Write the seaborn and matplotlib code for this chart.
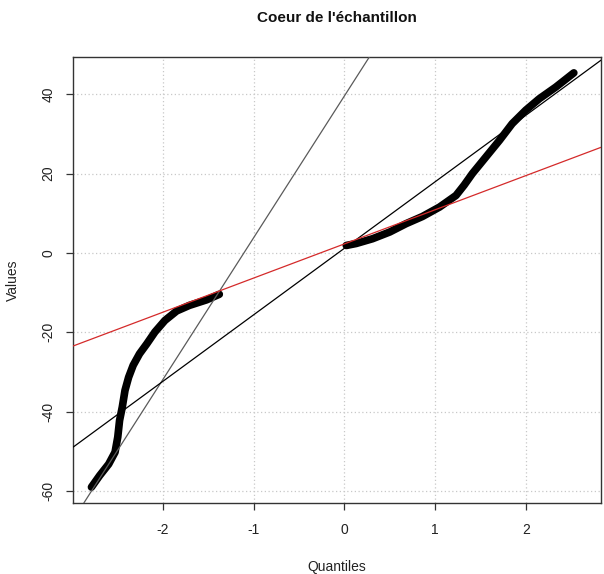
import numpy as np
import pandas as pd
import seaborn as sns
import matplotlib
matplotlib.use("Agg")
import matplotlib.pyplot as plt

# ============================================================
# DONNEES
# ============================================================

# partie basse de l'echantillon
q_bas = [-2.79, -2.70, -2.60, -2.53, -2.50, -2.48, -2.45, -2.42, -2.38,
         -2.33, -2.26, -2.18, -2.09, -1.98, -1.85, -1.71, -1.52, -1.38]
v_bas = [-59.0, -56.1, -53.2, -50.2, -46.4, -42.2, -38.8, -34.6, -31.3,
         -28.3, -25.4, -22.9, -19.9, -17.0, -14.6, -13.2, -11.8, -10.4]

# partie haute de l'echantillon
q_haut = [0.02, 0.13, 0.31, 0.50, 0.68, 0.86, 1.05, 1.23, 1.32,
          1.41, 1.56, 1.71, 1.85, 2.00, 2.15, 2.33, 2.53]
v_haut = [1.9, 2.4, 3.6, 5.3, 7.4, 9.2, 11.6, 14.5, 17.1,
          20.0, 24.2, 28.4, 32.6, 36.0, 38.9, 41.8, 45.4]

# droites de reference (ordonnee a l'origine, pente)
droites_ord = [39.6, 1.2, 2.3]
droites_pente = [35.7, 16.75, 8.6]
droites_couleur = ["#5a5a5a", "black", "#d42a2a"]

x_ticks = [-2, -1, 0, 1, 2]
y_ticks = [-60, -40, -20, 0, 20, 40]

# ============================================================
# FIGURE
# ============================================================

sns.set_style("white")
plt.rcParams['font.family'] = ['Liberation Sans', 'DejaVu Sans']

fig = plt.figure(figsize=(6.04, 5.74), dpi=100)
ax = fig.add_axes([0.1214, 0.1237, 0.8737, 0.777])

df_bas = pd.DataFrame({"q": q_bas, "v": v_bas})
df_haut = pd.DataFrame({"q": q_haut, "v": v_haut})

for d in [df_bas, df_haut]:
    sns.lineplot(data=d, x="q", y="v", ax=ax, color="black", linewidth=5.5,
                 solid_capstyle="round", solid_joinstyle="round", zorder=3)

for a, b, c in zip(droites_ord, droites_pente, droites_couleur):
    ax.axline((0, a), slope=b, color=c, linewidth=0.9, zorder=4)

ax.set_xlim(-2.99, 2.83)
ax.set_ylim(-63.0, 49.4)
ax.set_xticks(x_ticks)
ax.set_yticks(y_ticks)
ax.set_xticklabels([str(t) for t in x_ticks])
ax.set_yticklabels([str(t) for t in y_ticks])

ax.grid(True, linestyle=(0, (1, 2)), color="#c8c8c8", linewidth=0.9)
ax.set_axisbelow(True)

for s in ax.spines.values():
    s.set_visible(True)
    s.set_color("#333333")
    s.set_linewidth(1.0)

ax.tick_params(axis="both", direction="out", length=4.7, width=0.9,
               color="#333333", labelsize=10, labelcolor="#222222",
               bottom=True, left=True)
ax.tick_params(axis="x", pad=10)
ax.tick_params(axis="y", pad=8, labelrotation=90)
for lab in ax.get_yticklabels():
    lab.set_verticalalignment("center")

ax.set_xlabel("Quantiles", fontsize=10, labelpad=16, color="#222222")
ax.set_ylabel("Values", fontsize=10, labelpad=16, color="#222222")
ax.set_title("Coeur de l'échantillon", fontsize=11, fontweight="bold",
             pad=25, color="#111111")

plt.savefig("out.png", dpi=100)
